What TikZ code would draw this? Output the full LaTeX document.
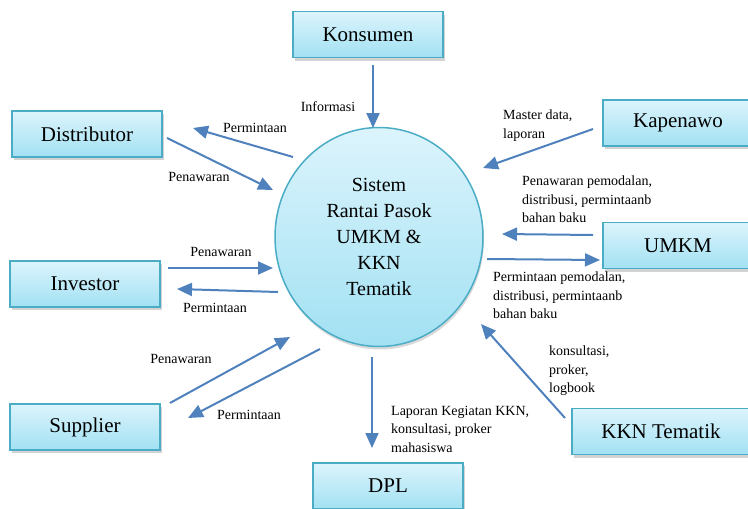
\documentclass[tikz,border=0pt]{standalone}
\usepackage{fontspec}
\setmainfont{Liberation Serif}
\usepackage{xcolor}
\usetikzlibrary{arrows.meta,shapes.geometric,shadows,positioning}

\definecolor{boxline}{HTML}{4BACC6}
\definecolor{boxtop}{HTML}{DCF4FC}
\definecolor{boxbot}{HTML}{A2E1F3}
\definecolor{flowblue}{HTML}{4F81BD}

\tikzset{
  entity/.style={rectangle, draw=boxline, line width=1.4pt,
    top color=boxtop, bottom color=boxbot,
    minimum width=150pt, minimum height=46pt,
    font=\fontsize{21}{25}\selectfont,
    drop shadow={shadow xshift=1.5pt, shadow yshift=-3pt, opacity=0.35}},
  flow/.style={draw=flowblue, line width=2pt,
    -{Triangle[length=15pt,width=13pt]}},
  lbl/.style={inner sep=0pt, align=left, font=\fontsize{14}{18.5}\selectfont},
}

\begin{document}
\begin{tikzpicture}[x=1pt,y=-1pt]
\useasboundingbox (0,0) rectangle (748,509);

% Central system
\node[ellipse, draw=boxline, line width=1.5pt,
      top color=boxtop, bottom color=boxbot,
      minimum width=208pt, minimum height=219pt, inner sep=0pt,
      align=center, font=\fontsize{20}{26}\selectfont,
      drop shadow={shadow xshift=1pt, shadow yshift=-3pt, opacity=0.3}]
  (sys) at (379,237) {Sistem\\Rantai Pasok\\UMKM \&\\KKN\\Tematik};

% External entities
\node[entity] (kons) at (368,34.5) {Konsumen};
\node[entity] (dist) at (87,134) {Distributor};
\node[entity] (inv)  at (85,284) {Investor};
\node[entity] (sup)  at (85,427) {Supplier};
\node[entity] (dpl)  at (388,486) {DPL};
\node[entity] (kap)  at (678,123) {Kapenawo};
\node[entity] (umkm) at (678,245.5) {UMKM};
\node[entity, minimum width=178pt] (kkn) at (661,431.5) {KKN Tematik};

% Flows left side
\draw[flow] ([shift={(5,30.5)}]kons.center) -- ([shift={(-6,-109)}]sys.center);
\draw[flow] ([shift={(-86,-80)}]sys.center) -- ([shift={(106,-6)}]dist.center);
\draw[flow] ([shift={(80,4)}]dist.center) -- ([shift={(-106,-47)}]sys.center);
\draw[flow] ([shift={(83,-16)}]inv.center) -- ([shift={(-106,31)}]sys.center);
\draw[flow] ([shift={(-101,55)}]sys.center) -- ([shift={(92,5)}]inv.center);
\draw[flow] ([shift={(85,-24)}]sup.center) -- ([shift={(-89,100)}]sys.center);
\draw[flow] ([shift={(-59,112)}]sys.center) -- ([shift={(103,-9)}]sup.center);
\draw[flow] ([shift={(-7,120)}]sys.center) -- ([shift={(-16,-38)}]dpl.center);

% Flows right side
\draw[flow] ([shift={(-85,6)}]kap.center) -- ([shift={(104,-69)}]sys.center);
\draw[flow] ([shift={(-85,-10.5)}]umkm.center) -- ([shift={(123,-3)}]sys.center);
\draw[flow] ([shift={(108,22)}]sys.center) -- ([shift={(-78,14.5)}]umkm.center);
\draw[flow] ([shift={(-96,-13.5)}]kkn.center) -- ([shift={(102,87)}]sys.center);

% Labels
\node[lbl] (lInfo)    at (328,107) {Informasi};
\node[lbl] (lDistReq) at (255,128) {Permintaan};
\node[lbl] (lDistOff) at (199,177) {Penawaran};
\node[lbl] (lInvOff)  at (221,252) {Penawaran};
\node[lbl] (lInvReq)  at (215,308) {Permintaan};
\node[lbl] (lSupOff)  at (181,359) {Penawaran};
\node[lbl] (lSupReq)  at (249,415) {Permintaan};
\node[lbl, anchor=north west] (lKap)  at (503,110) {Master data,\\laporan};
\node[lbl, anchor=north west] (lUmIn) at (522,176) {Penawaran pemodalan,\\distribusi, permintaanb\\bahan baku};
\node[lbl, anchor=north west] (lUmOut) at (493,272) {Permintaan pemodalan,\\distribusi, permintaanb\\bahan baku};
\node[lbl, anchor=north west] (lKkn) at (549,346) {konsultasi,\\proker,\\logbook};
\node[lbl, anchor=north west] (lDpl) at (391,406) {Laporan Kegiatan KKN,\\konsultasi, proker\\mahasiswa};
\end{tikzpicture}
\end{document}
